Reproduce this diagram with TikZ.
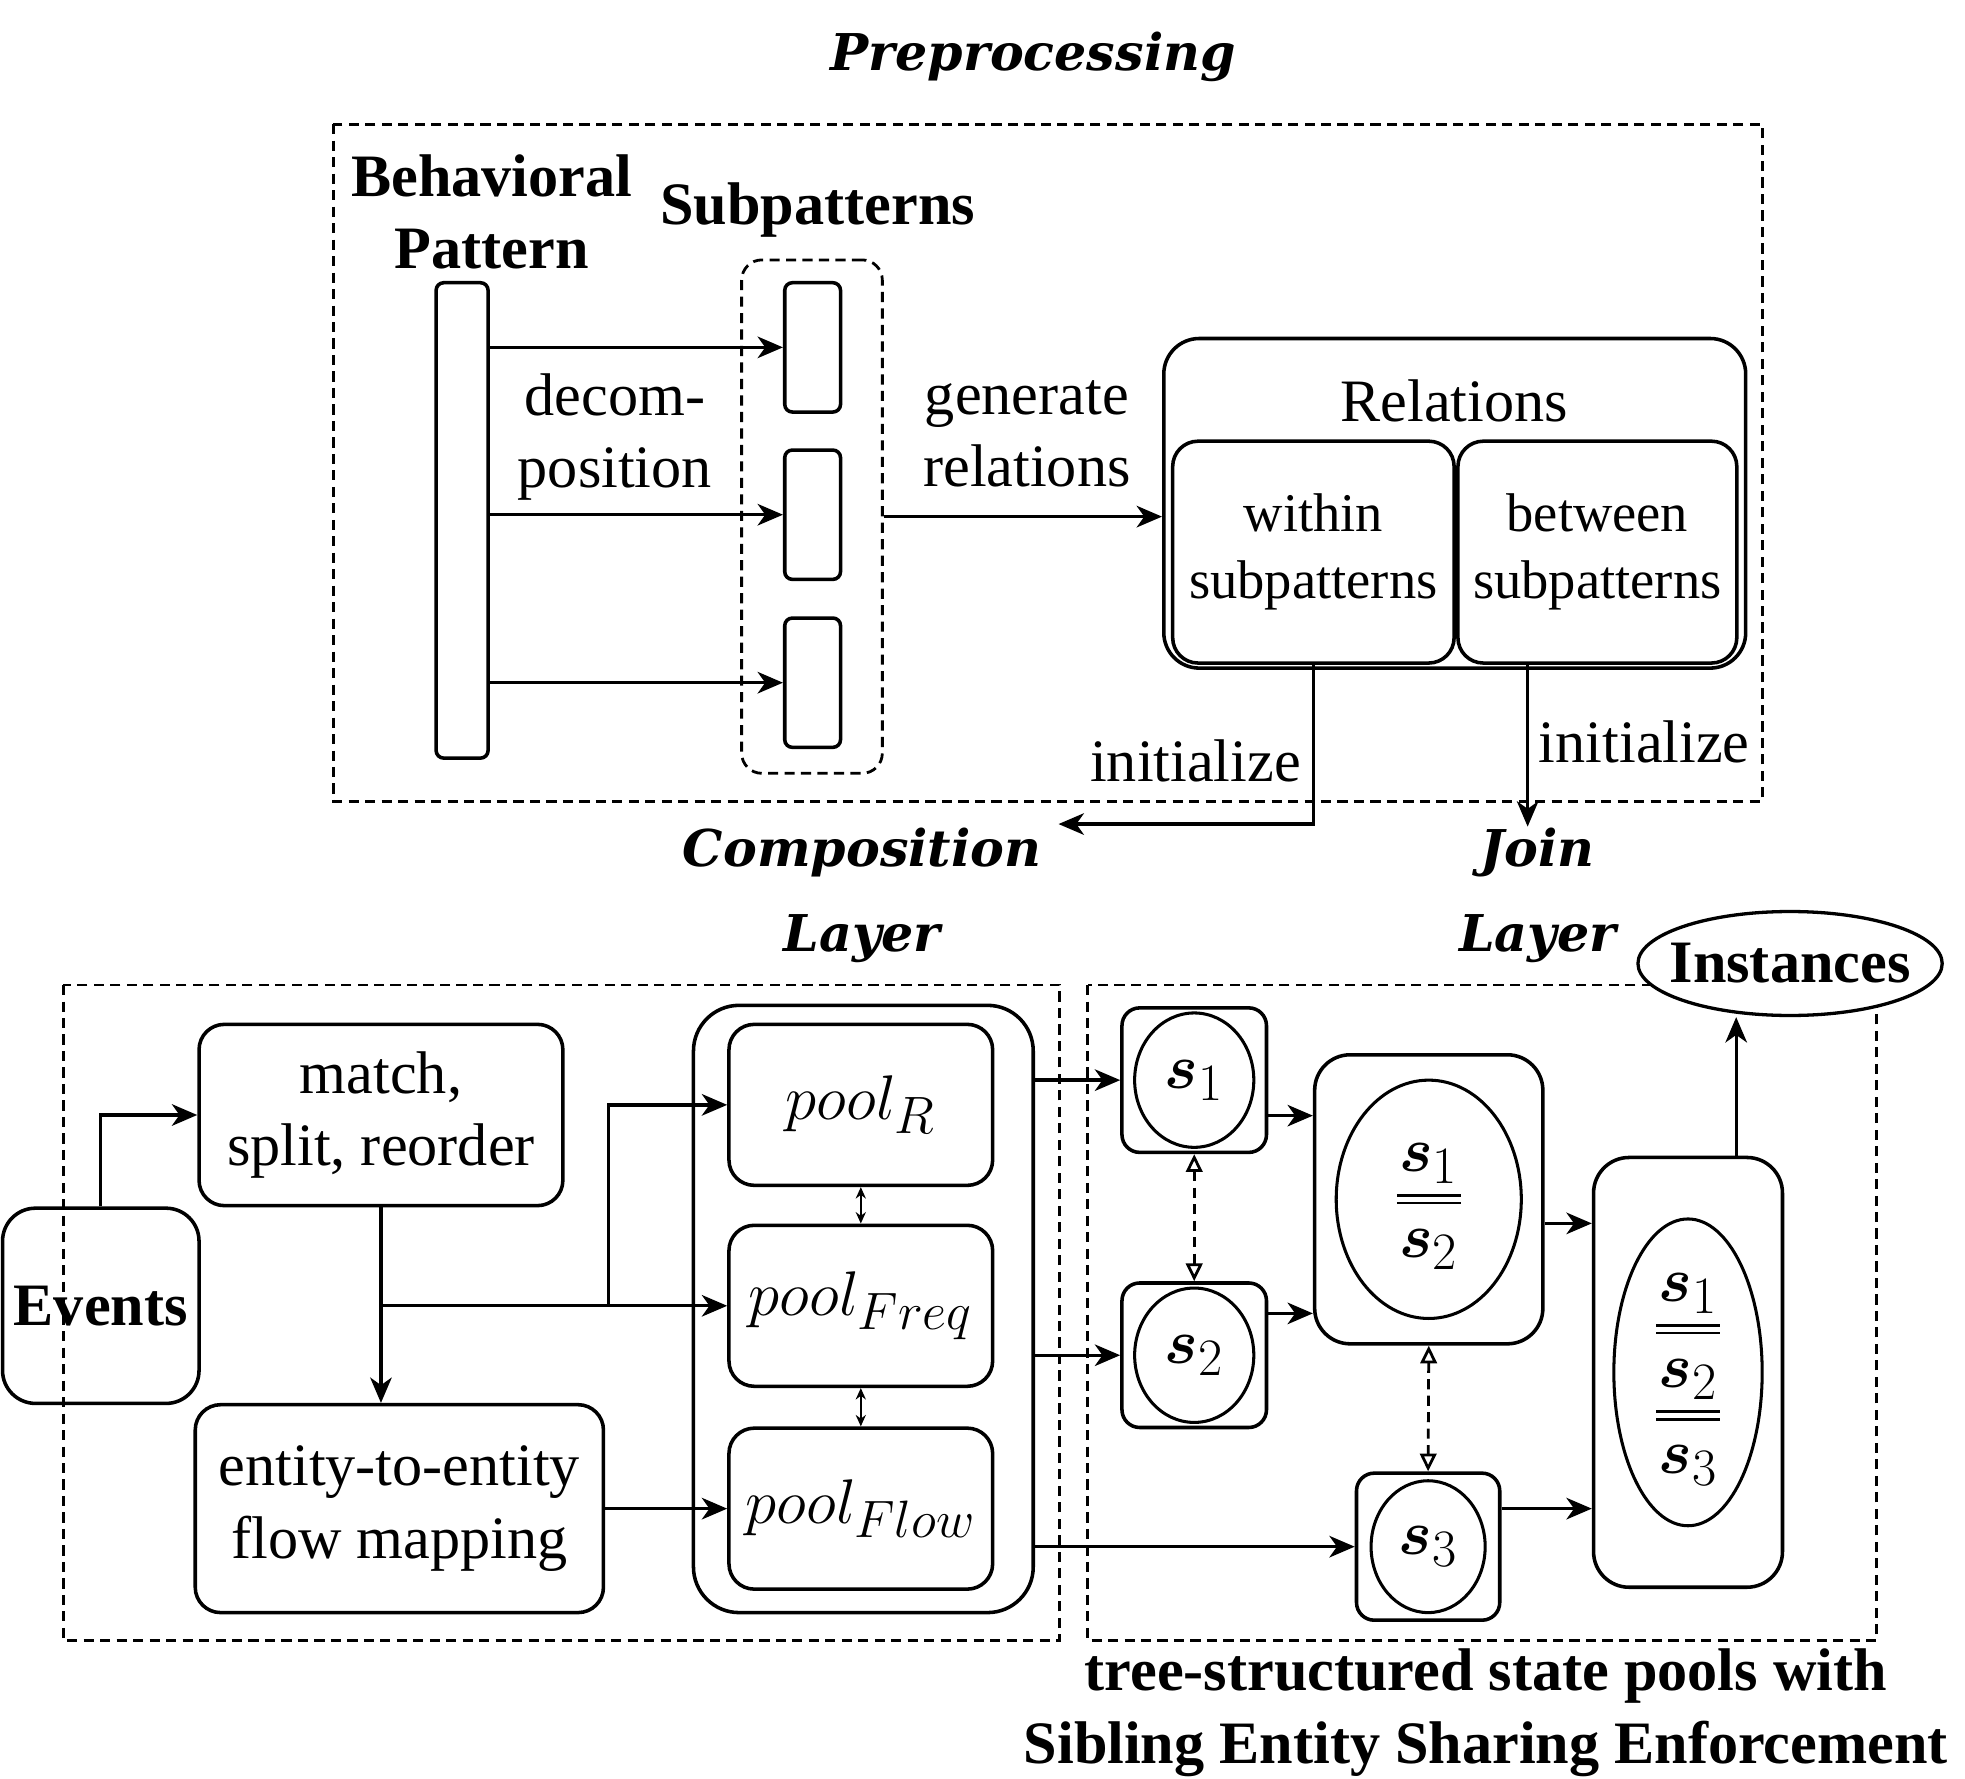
\documentclass[tikz,border=0pt]{standalone}
\usepackage{amsmath}
\usepackage{bm}
\usepackage{fontspec}
\setmainfont{Liberation Serif}
\newfontfamily\titlefont{DejaVu Serif}
\usetikzlibrary{arrows.meta, shapes.geometric, positioning, calc}

\newcommand{\nsz}{\fontsize{23.75}{28.5}\selectfont}
\newcommand{\ssz}{\fontsize{21.5}{26.5}\selectfont}
\newcommand{\msz}{\fontsize{25}{30}\selectfont}
\DeclareMathSizes{25}{25}{20}{15}
\setlength{\arrayrulewidth}{1pt}
\setlength{\doublerulesep}{3pt}
\setlength{\arraycolsep}{1pt}

\tikzset{
  box/.style={draw, rounded corners=10pt, line width=1.4pt, align=center, inner sep=0pt},
  circ/.style={draw, ellipse, line width=1.2pt, inner sep=-10pt, font=\msz},
  grp/.style={draw, dash pattern=on 4pt off 2.5pt, line width=1.1pt},
  arr/.style={-{Stealth[length=10pt,width=8.5pt,inset=3pt]}, line width=1.3pt},
  dbl/.style={{Stealth[length=4.5pt,width=4pt]}-{Stealth[length=4.5pt,width=4pt]}, line width=0.9pt},
  dsh/.style={{Triangle[open,length=7pt,width=6.5pt]}-{Triangle[open,length=7pt,width=6.5pt]},
    dash pattern=on 4pt off 2.5pt, line width=1.1pt},
  bld/.style={font=\nsz\bfseries, align=center},
  smtxt/.style={font=\ssz},
  ttl/.style={font=\titlefont\fontsize{20}{33.5}\selectfont\bfseries\itshape, align=center},
}

\begin{document}
\begin{tikzpicture}[x=0.5pt, y=-0.5pt, font=\nsz, align=center]
  \useasboundingbox (0,0) rectangle (1550,1403);

  % preprocessing
  \node[ttl] (preT) at (815,45) {Preprocessing};
  \draw[grp] (263,98) rectangle (1390,632);
  \node[bld] (bpT) at (388,167) {Behavioral\\Pattern};
  \node[bld] (subT) at (645,166) {Subpatterns};
  \node[box, rounded corners=3pt, minimum width=20.5pt, minimum height=187.5pt] (bp) at (364.5,410.5) {};
  \node[grp, rounded corners=8pt, minimum width=55.5pt, minimum height=202.5pt] (subs) at (640.5,407.5) {};
  \foreach \y [count=\i] in {274, 406, 538.5} {
    \node[box, rounded corners=3pt, minimum width=22pt, minimum height=51pt] (sub\i) at (641,\y) {};
    \draw[arr] (bp.east |- sub\i.west) -- (sub\i.west);
  };
  \node (dec) at (485,345) {decom-\\position};
  \node (gen) at (810,342) {generate\\relations};

  \node[box, rounded corners=14pt, minimum width=229.5pt, minimum height=130pt] (rel) at (1147.5,397) {};
  \node (relT) at (1147,316) {Relations};
  \node[box, smtxt, minimum width=111pt, minimum height=87.5pt] (within) at (1036,435.5) {within\\subpatterns};
  \node[box, smtxt, minimum width=110pt, minimum height=87.5pt] (between) at (1260,435.5) {between\\subpatterns};
  \draw[arr] (subs.east) -- (subs.east -| rel.west);

  \coordinate (compIn) at (835,650);
  \coordinate (joinIn) at (1205,652);
  \draw[arr] (within.south) |- (compIn);
  \draw[arr] (between.south -| joinIn) -- (joinIn);
  \node (ini1) at (943,600) {initialize};
  \node (ini2) at (1297,585) {initialize};

  \node[ttl] (compT) at (680,706) {Composition\\Layer};
  \node[ttl] (joinT) at (1213,706) {Join\\Layer};

  % composition layer
  \draw[grp] (50,777) rectangle (836,1294);
  \node[box, bld, rounded corners=13pt, minimum width=77.5pt, minimum height=77pt] (ev) at (79.5,1030) {Events};
  \node[box, minimum width=143.5pt, minimum height=71.5pt] (match) at (300.5,879.5) {match,\\split, reorder};
  \node[box, minimum width=161pt, minimum height=82pt] (ent) at (315,1190) {entity-to-entity\\flow mapping};
  \node[box, rounded corners=18pt, minimum width=134pt, minimum height=239.5pt] (pools) at (681,1032.5) {};
  \foreach \n/\y in {R/871.5, Freq/1030, Flow/1190} {
    \node[box, font=\msz, minimum width=104pt, minimum height=63.5pt] (pool\n) at (679,\y) {$pool_{\n}$};
  };
  \draw[dbl] (poolR.south) -- (poolFreq.north);
  \draw[dbl] (poolFreq.south) -- (poolFlow.north);

  \draw[arr] (ev.north) |- (match.west);
  \draw[arr] (match.south) -- (match.south |- ent.north);
  \draw[arr] (match.south |- poolFreq.west) -- (poolFreq.west);
  \coordinate (fork) at (480,1030);
  \draw[arr] (fork) |- (poolR.west);
  \draw[arr] (ent.east) -- (ent.east -| poolFlow.west);

  % join layer
  \draw[grp] (858,777) rectangle (1480,1294);
  \node[box, rounded corners=7pt, minimum width=57pt, minimum height=57pt] (st1) at (942,852) {};
  \node[circ, minimum width=47pt, minimum height=53pt] (s1) at (st1) {$\bm{s}_1$};
  \node[box, rounded corners=7pt, minimum width=57pt, minimum height=57pt] (st2) at (942,1069) {};
  \node[circ, minimum width=47pt, minimum height=53pt] (s2) at (st2) {$\bm{s}_2$};
  \node[box, rounded corners=7pt, minimum width=56.5pt, minimum height=58pt] (st3) at (1126.5,1220) {};
  \node[circ, minimum width=45pt, minimum height=52pt] (s3) at (st3) {$\bm{s}_3$};
  \node[box, rounded corners=14pt, minimum width=90pt, minimum height=114pt] (st12) at (1127,946) {};
  \node[circ, minimum width=73pt, minimum height=94pt] (s12) at (st12)
    {$\begin{array}{c}\bm{s}_1\\\hline\hline\bm{s}_2\end{array}$};
  \node[box, rounded corners=14pt, minimum width=74.5pt, minimum height=169.5pt] (st123) at (1331.5,1082.5) {};
  \node[circ, minimum width=58.5pt, minimum height=121pt] (s123) at (st123)
    {$\begin{array}{c}\bm{s}_1\\\hline\hline\bm{s}_2\\\hline\hline\bm{s}_3\end{array}$};

  \draw[arr] (st1.west -| pools.east) -- (st1.west);
  \draw[arr] (st2.west -| pools.east) -- (st2.west);
  \draw[arr] (st3.west -| pools.east) -- (st3.west);
  \draw[arr] ([yshift=-14pt]st1.east) -- ([yshift=-14pt]st1.east -| st12.west);
  \draw[arr] ([yshift=16.5pt]st2.east) -- ([yshift=16.5pt]st2.east -| st12.west);
  \draw[arr] ([yshift=-9.5pt]st12.east) -- ([yshift=-9.5pt]st12.east -| st123.west);
  \draw[arr] ([yshift=15pt]st3.east) -- ([yshift=15pt]st3.east -| st123.west);
  \draw[dsh] (st1.south) -- (st2.north);
  \draw[dsh] (st12.south) -- (st3.north);

  \node[draw, ellipse, fill=white, line width=1.3pt, inner sep=-12pt, bld,
    minimum width=120pt, minimum height=41pt] (inst) at (1412,760) {Instances};
  \draw[arr] ([xshift=19pt]st123.north) -- ([xshift=19pt]st123.north |- inst.south);

  \node[bld] (cap) at (1172,1351) {tree-structured state pools with\\Sibling Entity Sharing Enforcement};
\end{tikzpicture}
\end{document}
